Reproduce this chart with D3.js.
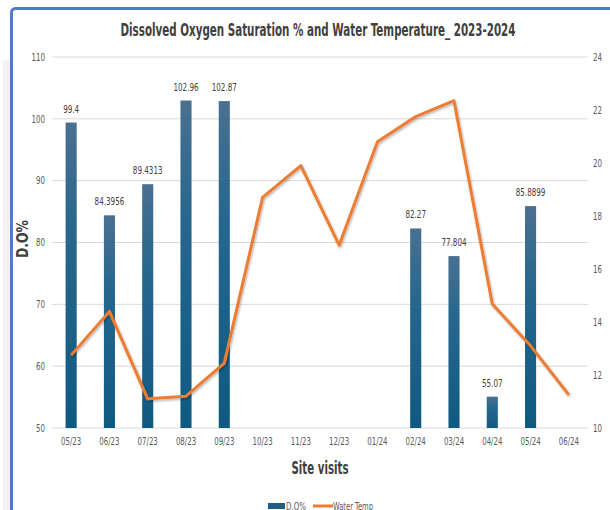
<!DOCTYPE html>
<meta charset="utf-8">
<html>
<head>
<script src="https://d3js.org/d3.v7.min.js"></script>
<style>
  body { margin: 0; background: #fff; }
  text { font-family: "DejaVu Sans Condensed", "Liberation Sans", sans-serif; }
</style>
</head>
<body>
<svg id="my_dataviz" width="610" height="510"></svg>
</body>
</html>
<script>

// data
var months = ["05/23","06/23","07/23","08/23","09/23","10/23","11/23","12/23","01/24","02/24","03/24","04/24","05/24","06/24"];
var doValues = [99.4, 84.3956, 89.4313, 102.96, 102.87, null, null, null, null, 82.27, 77.804, 55.07, 85.8899, null];
var doLabels = ["99.4","84.3956","89.4313","102.96","102.87","","","","","82.27","77.804","55.07","85.8899",""];
var waterTemp = [12.75, 14.4, 11.1, 11.2, 12.45, 18.7, 19.9, 16.9, 20.8, 21.75, 22.35, 14.68, 13.1, 11.25];
var leftTicks = [50, 60, 70, 80, 90, 100, 110];
var rightTicks = [10, 12, 14, 16, 18, 20, 22, 24];

var svg = d3.select("svg");

// squeeze text horizontally, the original uses a narrow font
function squeeze(sel, f) {
  sel.each(function () {
    var w = this.getComputedTextLength();
    d3.select(this).attr("textLength", w * f).attr("lengthAdjust", "spacingAndGlyphs");
  });
}

// soft shadow at the left of the frame
svg.append("rect")
  .attr("x", 3).attr("y", 60).attr("width", 7).attr("height", 460)
  .attr("fill", "#f2f2f2");

// frame round the chart
svg.append("rect")
  .attr("x", 11.5).attr("y", 8.5)
  .attr("width", 640).attr("height", 540)
  .attr("rx", 4)
  .attr("fill", "#fff")
  .attr("stroke", "#4f7dc0")
  .attr("stroke-width", 3);

// gradient for bars
var defs = svg.append("defs");
var grad = defs.append("linearGradient")
  .attr("id", "barGrad")
  .attr("x1", 0).attr("y1", 0).attr("x2", 0).attr("y2", 1);
grad.append("stop").attr("offset", "0%").attr("stop-color", "#4a7090");
grad.append("stop").attr("offset", "35%").attr("stop-color", "#27678e");
grad.append("stop").attr("offset", "100%").attr("stop-color", "#0f5a82");

var shadow = defs.append("filter").attr("id", "lineShadow")
  .attr("x", "-10%").attr("y", "-10%").attr("width", "120%").attr("height", "130%");
shadow.append("feDropShadow")
  .attr("dx", 1).attr("dy", 1.5).attr("stdDeviation", 1)
  .attr("flood-color", "#000").attr("flood-opacity", 0.3);

// scales
var x = d3.scaleBand()
  .domain(months)
  .range([52, 588])
  .paddingInner(0.71)
  .paddingOuter(0.355);

var xPoint = function (m) { return x(m) + x.bandwidth() / 2; };

var yLeft = d3.scaleLinear().domain([50, 110]).range([428, 57]);
var yRight = d3.scaleLinear().domain([10, 24]).range([428, 57]);

// gridlines
svg.append("g")
  .selectAll("line")
  .data(leftTicks)
  .enter()
  .append("line")
    .attr("x1", 52).attr("x2", 588)
    .attr("y1", function (d) { return yLeft(d); })
    .attr("y2", function (d) { return yLeft(d); })
    .attr("stroke", "#d9d9d9")
    .attr("stroke-width", 1);

// axes
var leftAxis = svg.append("g")
  .attr("transform", "translate(52,0)")
  .call(d3.axisLeft(yLeft).tickValues(leftTicks).tickSize(0).tickPadding(7));
var rightAxis = svg.append("g")
  .attr("transform", "translate(588,0)")
  .call(d3.axisRight(yRight).tickValues(rightTicks).tickSize(0).tickPadding(5));
var bottomAxis = svg.append("g")
  .attr("transform", "translate(0,428)")
  .call(d3.axisBottom(x).tickSize(0).tickPadding(10));

[leftAxis, rightAxis, bottomAxis].forEach(function (a) {
  a.select(".domain").remove();
  a.selectAll("text")
    .attr("fill", "#595959")
    .attr("font-family", null)
    .attr("font-size", null)
    .style("font-size", "10px");
  squeeze(a.selectAll("text"), 0.78);
});

// bars
var barData = months.map(function (m, i) { return { m: m, v: doValues[i], label: doLabels[i] }; })
  .filter(function (d) { return d.v !== null; });

svg.append("g")
  .selectAll("rect")
  .data(barData)
  .enter()
  .append("rect")
    .attr("x", function (d) { return x(d.m); })
    .attr("y", function (d) { return yLeft(d.v); })
    .attr("width", x.bandwidth())
    .attr("height", function (d) { return yLeft(50) - yLeft(d.v); })
    .attr("fill", "url(#barGrad)");

// bar labels
var labels = svg.append("g")
  .selectAll("text")
  .data(barData)
  .enter()
  .append("text")
    .attr("x", function (d) { return xPoint(d.m); })
    .attr("y", function (d) { return yLeft(d.v) - 10; })
    .attr("text-anchor", "middle")
    .attr("fill", "#404040")
    .style("font-size", "10px")
    .text(function (d) { return d.label; });
squeeze(labels, 0.8);

// water temperature line
var line = d3.line()
  .x(function (d, i) { return xPoint(months[i]); })
  .y(function (d) { return yRight(d); });

svg.append("path")
  .datum(waterTemp)
  .attr("d", line)
  .attr("fill", "none")
  .attr("stroke", "#ed7d31")
  .attr("stroke-width", 3)
  .attr("stroke-linejoin", "round")
  .attr("filter", "url(#lineShadow)");

// titles
svg.append("text")
  .attr("x", 318).attr("y", 36)
  .attr("text-anchor", "middle")
  .attr("fill", "#404040")
  .attr("textLength", 395)
  .attr("lengthAdjust", "spacingAndGlyphs")
  .style("font-size", "17px")
  .style("font-weight", "bold")
  .text("Dissolved Oxygen Saturation % and Water Temperature_ 2023-2024");

svg.append("text")
  .attr("transform", "translate(28,239) rotate(-90)")
  .attr("text-anchor", "middle")
  .attr("fill", "#404040")
  .attr("textLength", 38)
  .attr("lengthAdjust", "spacingAndGlyphs")
  .style("font-size", "15px")
  .style("font-weight", "bold")
  .text("D.O%");

svg.append("text")
  .attr("x", 320).attr("y", 474)
  .attr("text-anchor", "middle")
  .attr("fill", "#404040")
  .attr("textLength", 57)
  .attr("lengthAdjust", "spacingAndGlyphs")
  .style("font-size", "18px")
  .style("font-weight", "bold")
  .text("Site visits");

// legend
var legend = svg.append("g").attr("transform", "translate(268,506)");
legend.append("rect")
  .attr("x", 0).attr("y", -3).attr("width", 17).attr("height", 6)
  .attr("fill", "#1f5f87");
legend.append("text")
  .attr("x", 18).attr("y", 3.5)
  .attr("fill", "#595959")
  .attr("textLength", 20)
  .attr("lengthAdjust", "spacingAndGlyphs")
  .style("font-size", "10px")
  .text("D.O%");
legend.append("line")
  .attr("x1", 45).attr("x2", 65).attr("y1", 0).attr("y2", 0)
  .attr("stroke", "#ed7d31").attr("stroke-width", 3);
legend.append("text")
  .attr("x", 65).attr("y", 3.5)
  .attr("fill", "#595959")
  .attr("textLength", 40)
  .attr("lengthAdjust", "spacingAndGlyphs")
  .style("font-size", "10px")
  .text("Water Temp");

</script>
